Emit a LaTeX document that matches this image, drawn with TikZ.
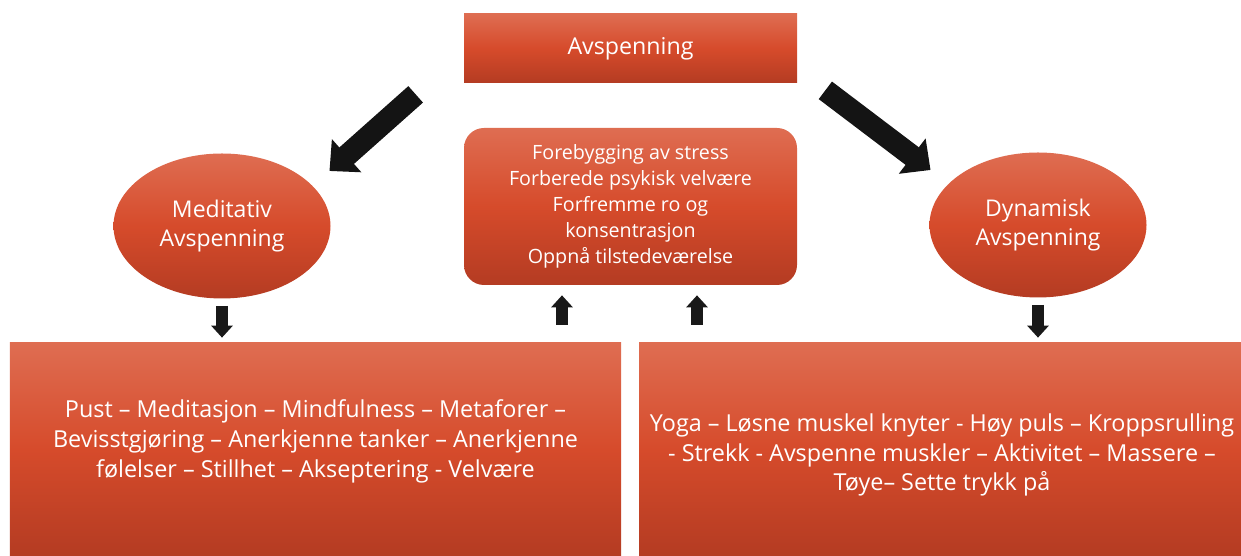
\documentclass[tikz,border=0pt]{standalone}
\usepackage{fontspec}
\setmainfont{Open Sans}
\usetikzlibrary{arrows.meta,shapes.geometric}

\definecolor{rlight}{RGB}{231,143,120}
\definecolor{rmid}{RGB}{214,75,43}
\definecolor{rdark}{RGB}{146,44,26}
\pgfdeclareverticalshading{redfade}{100bp}{color(0bp)=(rdark); color(50bp)=(rmid); color(100bp)=(rlight)}

\begin{document}
\begin{tikzpicture}[
		redbox/.style={rectangle, shading=redfade, draw=none, text=white, align=center, inner sep=0pt},
		redoval/.style={ellipse, shading=redfade, draw=none, text=white, align=center, inner sep=0pt,
			minimum width=4.34cm, minimum height=2.9cm, font=\fontsize{13.1}{16}\selectfont},
		bigarrow/.style={line width=0.44cm, black!92, -{Triangle[width=0.86cm, length=0.46cm]}},
		smallarrow/.style={line width=0.24cm, black!90, -{Triangle[width=0.42cm, length=0.24cm]}}
	]
		\useasboundingbox (0,0) rectangle (24.82,11.12);

		\node[redbox, minimum width=6.66cm, minimum height=1.38cm,
			font=\fontsize{13.2}{15}\selectfont] (top) at (12.61,10.15) {Avspenning};
		\node[redbox, rounded corners=0.4cm, minimum width=6.66cm, minimum height=3.14cm,
			font=\fontsize{11.2}{14.8}\selectfont] (mid) at (12.61,6.99)
			{Forebygging av stress\\Forberede psykisk velvære\\Forfremme ro og\\konsentrasjon\\Oppnå tilstedeværelse};

		\node[redoval] (medell) at (4.44,6.6) {Meditativ\\Avspenning};
		\node[redoval] (dynell) at (20.76,6.62) {Dynamisk\\Avspenning};

		\node[redbox, minimum width=12.22cm, minimum height=4.26cm] (medbox) at (6.31,2.13) {};
		\node[redbox, minimum width=12.04cm, minimum height=4.26cm] (dynbox) at (18.8,2.13) {};

		\node[text=white, align=center, font=\fontsize{13.3}{17}\selectfont] (medtxt) at (6.31,2.3)
			{Pust – Meditasjon – Mindfulness – Metaforer –\\Bevisstgjøring – Anerkjenne tanker – Anerkjenne\\følelser – Stillhet – Akseptering - Velvære};
		\node[text=white, align=center, font=\fontsize{13.3}{17}\selectfont] (dyntxt) at (18.84,2.02)
			{Yoga – Løsne muskel knyter - Høy puls – Kroppsrulling\\- Strekk - Avspenne muskler – Aktivitet – Massere –\\Tøye– Sette trykk på};

		% big arrows from the title
		\coordinate (lt) at ([xshift=-0.96cm,yshift=-0.22cm]top.south west);
		\coordinate (lh) at ([xshift=0.61cm,yshift=0.07cm]medell.north east);
		\coordinate (rt) at ([xshift=0.56cm,yshift=-0.14cm]top.south east);
		\coordinate (rh) at ([xshift=-0.61cm,yshift=0.07cm]dynell.north west);
		\draw[bigarrow] (lt) -- (lh);
		\draw[bigarrow] (rt) -- (rh);

		% small arrows
		\draw[smallarrow, shorten <=0.14cm, shorten >=0.1cm] (medell.south) -- (medell.south |- medbox.north);
		\draw[smallarrow, shorten <=0.14cm, shorten >=0.1cm] (dynell.south) -- (dynell.south |- dynbox.north);
		\coordinate (u1) at ([xshift=-1.37cm]mid.south);
		\coordinate (u2) at ([xshift=1.33cm]mid.south);
		\draw[smallarrow, shorten <=0.36cm, shorten >=0.2cm] (u1 |- medbox.north) -- (u1);
		\draw[smallarrow, shorten <=0.36cm, shorten >=0.2cm] (u2 |- dynbox.north) -- (u2);
	\end{tikzpicture}
\end{document}
